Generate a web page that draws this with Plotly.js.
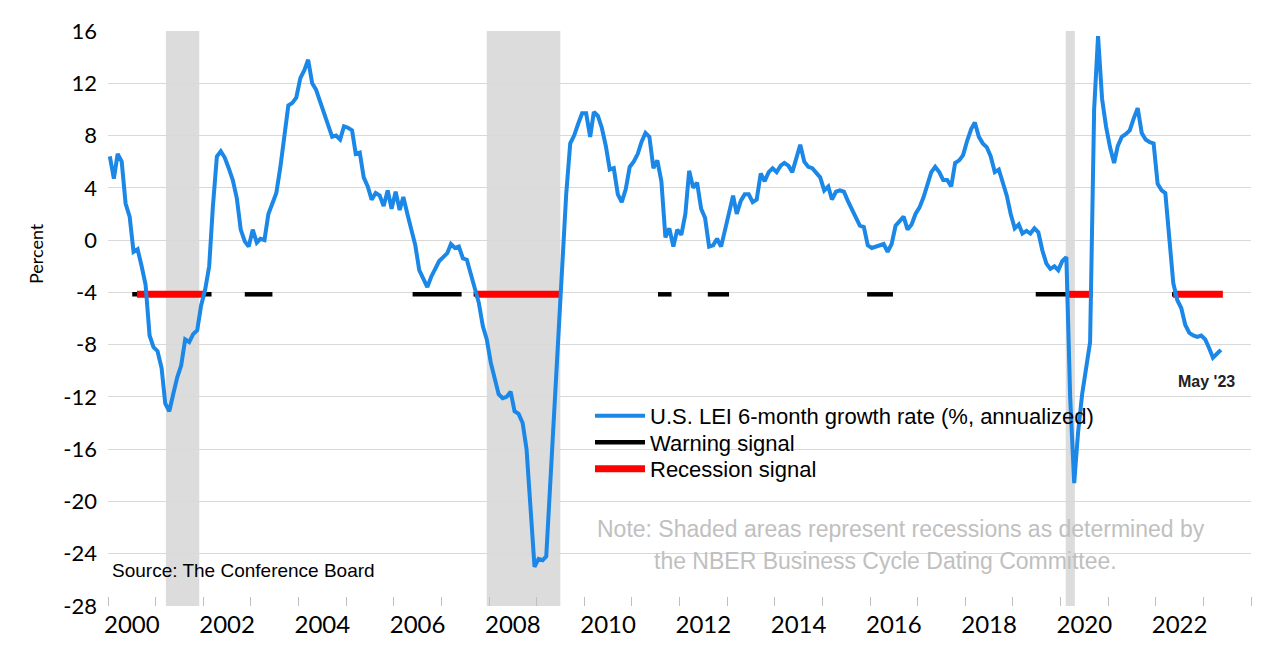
<!DOCTYPE html>
<html>
<head>
<meta charset="utf-8">
<script src="https://cdn.plot.ly/plotly-3.0.1.min.js"></script>
<style>
  html, body { margin: 0; padding: 0; background: #ffffff; }
  #chart { width: 1280px; height: 663px; }
</style>
</head>
<body>
<div id="chart"></div>
<script>
// ---- Data ----
// U.S. LEI 6-month growth rate (%, annualized), monthly, Jan 2000 - May 2023
const lei2000 = [6.4, 4.7, 6.6, 6.0, 2.8, 1.8, -0.9, -0.7, -2.0, -3.4, -7.3, -8.2];
const lei2001 = [-8.5, -9.8, -12.5, -13.1, -11.8, -10.5, -9.6, -7.6, -7.8, -7.2, -6.9, -5.0];
const lei2002 = [-3.8, -2.0, 2.5, 6.4, 6.8, 6.3, 5.5, 4.6, 3.2, 0.8, -0.1, -0.5];
const lei2003 = [0.8, -0.2, 0.1, 0.0, 2.0, 2.9, 3.6, 5.6, 8.2, 10.3, 10.5, 10.9];
const lei2004 = [12.4, 13.0, 13.8, 12.0, 11.5, 10.6, 9.6, 8.6, 7.9, 8.0, 7.7, 8.7];
const lei2005 = [8.6, 8.4, 6.6, 6.7, 4.8, 4.1, 3.1, 3.6, 3.4, 2.6, 3.8, 2.4];
const lei2006 = [3.7, 2.3, 3.3, 2.0, 0.8, -0.4, -2.3, -3.0, -3.6, -2.8, -2.2, -1.6];
const lei2007 = [-1.3, -1.0, -0.3, -0.6, -0.5, -1.4, -1.5, -2.6, -3.5, -4.8, -6.6, -7.6];
const lei2008 = [-9.4, -10.8, -11.8, -12.1, -12.0, -11.6, -13.1, -13.3, -14.0, -16.0, -20.3, -25.0];
const lei2009 = [-24.4, -24.5, -24.2, -18.5, -12.8, -8.3, -2.5, 3.5, 7.4, 8.0, 8.9, 9.7];
const lei2010 = [9.7, 7.9, 9.8, 9.5, 8.6, 7.2, 5.4, 5.5, 3.5, 2.9, 3.9, 5.6];
const lei2011 = [6.0, 6.6, 7.5, 8.2, 7.9, 5.5, 6.1, 4.5, 0.2, 0.9, -0.5, 0.8];
const lei2012 = [0.4, 2.0, 5.3, 4.0, 4.4, 2.4, 1.7, -0.5, -0.4, 0.1, -0.5, 0.8];
const lei2013 = [2.3, 3.4, 2.0, 3.0, 3.5, 3.5, 2.9, 3.1, 5.1, 4.5, 5.2, 5.5];
const lei2014 = [5.2, 5.7, 5.9, 5.7, 5.2, 6.3, 7.3, 6.0, 5.6, 5.5, 5.1, 4.8];
const lei2015 = [3.8, 4.1, 3.1, 3.7, 3.8, 3.7, 3.0, 2.4, 1.8, 1.1, 1.0, -0.4];
const lei2016 = [-0.6, -0.5, -0.4, -0.3, -0.9, -0.3, 1.1, 1.4, 1.8, 0.8, 1.2, 2.0];
const lei2017 = [2.5, 3.3, 4.3, 5.2, 5.6, 5.2, 4.6, 4.6, 4.1, 5.9, 6.1, 6.5];
const lei2018 = [7.6, 8.5, 9.0, 7.9, 7.4, 7.1, 6.4, 5.2, 5.4, 4.4, 3.4, 2.0];
const lei2019 = [0.9, 1.2, 0.5, 0.7, 0.5, 0.9, 0.6, -0.8, -1.8, -2.2, -2.0, -2.3];
const lei2020 = [-1.6, -1.3, -12.0, -18.6, -14.7, -11.8, -9.6, -7.8, 10.0, 15.6, 10.8, 8.7];
const lei2021 = [7.1, 5.9, 7.2, 7.9, 8.1, 8.4, 9.3, 10.1, 8.2, 7.7, 7.5, 7.4];
const lei2022 = [4.3, 3.8, 3.6, 0.2, -3.3, -4.6, -5.2, -6.5, -7.1, -7.3, -7.4, -7.3];
const lei2023 = [-7.6, -8.3, -9.0, -8.7, -8.4];
const leiYears = [2000, 2001, 2002, 2003, 2004, 2005, 2006, 2007, 2008, 2009, 2010, 2011,
                  2012, 2013, 2014, 2015, 2016, 2017, 2018, 2019, 2020, 2021, 2022, 2023];
const leiByYear = [lei2000, lei2001, lei2002, lei2003, lei2004, lei2005, lei2006, lei2007,
                   lei2008, lei2009, lei2010, lei2011, lei2012, lei2013, lei2014, lei2015,
                   lei2016, lei2017, lei2018, lei2019, lei2020, lei2021, lei2022, lei2023];

// Warning / recession signal periods (start, end)
const warningStart = ['2000-07-05', '2002-11-15', '2006-05-25', '2007-09-05', '2011-07-20', '2012-08-05', '2015-12-10', '2019-06-25', '2022-05-05'];
const warningEnd   = ['2002-03-05', '2003-06-15', '2007-06-05', '2007-09-20', '2011-11-01', '2013-01-15', '2016-06-25', '2020-03-01', '2022-05-20'];
const recSignalStart = ['2000-08-10', '2007-09-15', '2020-03-01', '2022-05-12'];
const recSignalEnd   = ['2002-01-15', '2009-07-05', '2020-09-05', '2023-05-30'];
const signalLevel = -4.15;

// NBER recessions (shaded)
const nberStart = ['2001-03-20', '2007-12-15', '2020-02-10'];
const nberEnd   = ['2001-12-01', '2009-07-01', '2020-04-20'];

// Axis labels
const yearLabels = ['2000', '2002', '2004', '2006', '2008', '2010', '2012', '2014', '2016', '2018', '2020', '2022'];
const yTickValues = [-28, -24, -20, -16, -12, -8, -4, 0, 4, 8, 12, 16];
const yTickLabels = ['-28', '-24', '-20', '-16', '-12', '-8', '-4', '0', '4', '8', '12', '16'];

// ---- Build traces ----
const months = [];
const leiValues = [];
leiByYear.forEach((vals, i) => {
  vals.forEach((v, m) => {
    months.push(leiYears[i] + '-' + String(m + 1).padStart(2, '0') + '-15');
    leiValues.push(v);
  });
});

function segments(starts, ends) {
  const x = [], y = [];
  starts.forEach((s, i) => { x.push(s, ends[i], null); y.push(signalLevel, signalLevel, null); });
  return { x, y };
}
const warn = segments(warningStart, warningEnd);
const rec = segments(recSignalStart, recSignalEnd);

const traces = [
  { type: 'scatter', mode: 'lines', name: 'Warning signal', x: warn.x, y: warn.y,
    line: { color: '#000000', width: 4.5 }, legend: 'legend2', hoverinfo: 'skip' },
  { type: 'scatter', mode: 'lines', name: 'Recession signal', x: rec.x, y: rec.y,
    line: { color: '#ff0000', width: 7 }, legend: 'legend3', hoverinfo: 'skip' },
  { type: 'scatter', mode: 'lines', name: 'U.S. LEI 6-month growth rate (%, annualized)',
    x: months, y: leiValues, line: { color: '#1b87e6', width: 4 }, legend: 'legend' }
];

const tickDates = yearLabels.map(y => y + '-07-02');
const yearStarts = [];
for (let y = 2000; y <= 2024; y++) yearStarts.push(y + '-01-01');

const shapes = nberStart.map((s, i) => ({
  type: 'rect', xref: 'x', yref: 'paper', x0: s, x1: nberEnd[i], y0: 0, y1: 1,
  fillcolor: '#dcdcdc', line: { width: 0 }, layer: 'between'
}));

const plotLeft = 108, plotWidth = 1143, plotBottom = 606, plotHeight = 575;
const px = p => (p - plotLeft) / plotWidth;
const py = p => (plotBottom - p) / plotHeight;

const annotations = [
  { text: 'Percent', xref: 'paper', yref: 'y', x: px(36), y: -1.07, textangle: -90,
    showarrow: false, xanchor: 'center', yanchor: 'middle',
    font: { family: 'Lato, sans-serif', size: 18, color: '#000' } },
  { text: 'Source: The Conference Board', xref: 'paper', yref: 'y', x: px(110), y: -25.25,
    showarrow: false, xanchor: 'left', yanchor: 'middle',
    font: { family: 'Liberation Sans, Arial, sans-serif', size: 19, color: '#000' } },
  { text: "May '23", xref: 'paper', yref: 'y', x: px(1206), y: -10.8,
    showarrow: false, xanchor: 'center', yanchor: 'middle',
    font: { family: 'Liberation Sans, Arial, sans-serif', size: 16, color: '#222', weight: 'bold' } },
  { text: 'Note: Shaded areas represent recessions as determined by', xref: 'paper', yref: 'y',
    x: px(901), y: -22.1, showarrow: false, xanchor: 'center', yanchor: 'middle',
    font: { family: 'Liberation Sans, Arial, sans-serif', size: 23, color: '#c0c0c0' } },
  { text: 'the NBER Business Cycle Dating Committee.', xref: 'paper', yref: 'y',
    x: px(885), y: -24.55, showarrow: false, xanchor: 'center', yanchor: 'middle',
    font: { family: 'Liberation Sans, Arial, sans-serif', size: 23, color: '#c0c0c0' } }
];

const legendFont = { family: 'Liberation Sans, Arial, sans-serif', size: 22, color: '#000' };
function legendAt(centerY) {
  return { x: px(590), xanchor: 'left', y: py(centerY), yanchor: 'middle',
           bgcolor: 'rgba(0,0,0,0)', borderwidth: 0, itemwidth: 50, font: legendFont };
}

const layout = {
  width: 1280, height: 663,
  margin: { l: 108, r: 29, t: 31, b: 57, pad: 0 },
  paper_bgcolor: '#ffffff', plot_bgcolor: '#ffffff',
  font: { family: 'Liberation Sans, Arial, sans-serif', color: '#000' },
  showlegend: true,
  hovermode: false,
  xaxis: {
    type: 'date', range: ['2000-01-01', '2024-01-01'],
    tickmode: 'array', tickvals: tickDates, ticktext: yearLabels,
    ticks: '', showgrid: false, zeroline: false, showline: false,
    tickfont: { family: 'Lato, sans-serif', size: 24, color: '#000' },
    ticklabelstandoff: 2,
    minor: { tickmode: 'array', tickvals: yearStarts, ticks: 'inside', ticklen: 9,
             tickwidth: 1, tickcolor: '#bfbfbf', showgrid: false }
  },
  yaxis: {
    range: [-28, 16], tickmode: 'array', tickvals: yTickValues, ticktext: yTickLabels,
    showgrid: true, gridcolor: '#d9d9d9', gridwidth: 1,
    zeroline: false, showline: false, ticks: '',
    tickfont: { family: 'Lato, sans-serif', size: 22, color: '#000' },
    ticklabelstandoff: 10
  },
  legend: legendAt(416),
  legend2: legendAt(442.5),
  legend3: legendAt(469),
  shapes: shapes,
  annotations: annotations
};

Plotly.newPlot('chart', traces, layout, { displayModeBar: false, staticPlot: true });
</script>
</body>
</html>
